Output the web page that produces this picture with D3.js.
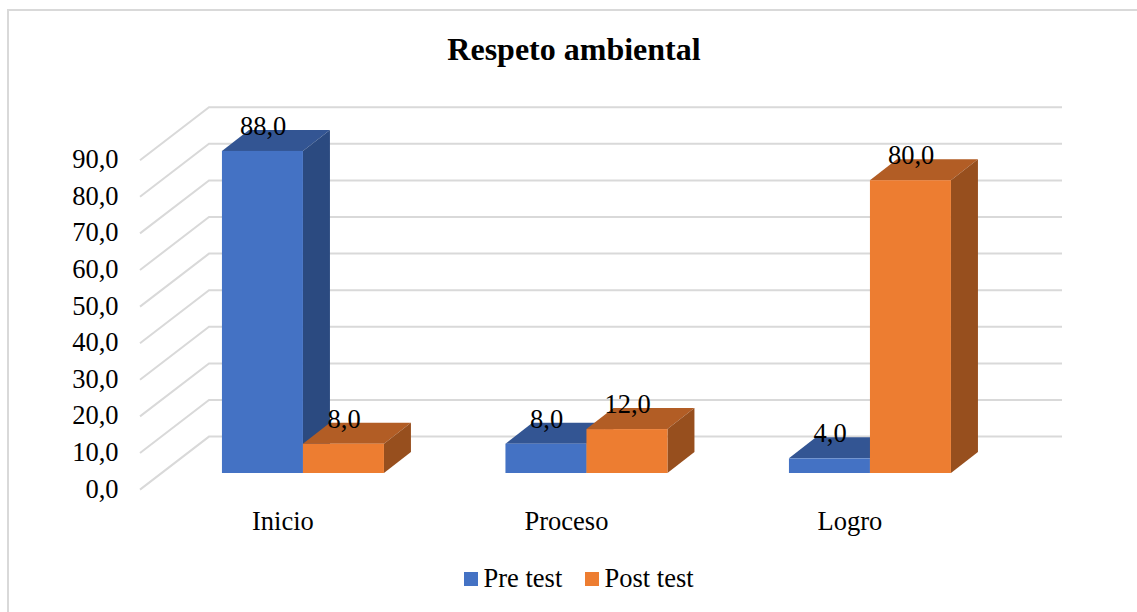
<!DOCTYPE html>
<html><head><meta charset="utf-8">
<script src="https://cdn.jsdelivr.net/npm/d3@7"></script>
<style>html,body{margin:0;padding:0;background:#fff;overflow:hidden}
svg{display:block;font-family:"Liberation Serif",serif;fill:#000}</style></head>
<body><svg id="c" width="1137" height="612"></svg>
<script>
const titleText = "Respeto ambiental";
const categories = ["Inicio", "Proceso", "Logro"];
const seriesNames = ["Pre test", "Post test"];
const preTest = [88, 8, 4];
const postTest = [8, 12, 80];
const tickValues = [0, 10, 20, 30, 40, 50, 60, 70, 80, 90];
const frontColors = ["#4472c4", "#ed7d31"];
const topColors = ["#335593", "#b25d25"];
const sideColors = ["#2b4a80", "#974f1e"];

const fmt = v => v.toFixed(1).replace(".", ",");
const svg = d3.select("#c");
const fontSize = 26.5;

// chart frame
svg.append("path").attr("d", "M8,612V10H1137").attr("fill", "none")
  .attr("stroke", "#d9d9d9").attr("stroke-width", 2);

svg.append("text").attr("x", 574).attr("y", 60).attr("text-anchor", "middle")
  .attr("font-size", 32).attr("font-weight", "bold").text(titleText);

// scales: y for the bar plane; walls are shifted by a fixed oblique offset
const y = d3.scaleLinear().domain([0, 90]).range([473, 143.6]);
const x0 = d3.scaleBand().domain(categories).range([161.2, 1011.7]);
const barW = 81;
const x1 = d3.scaleBand().domain(d3.range(seriesNames.length)).range([0, barW * 2]);
const inset = (x0.bandwidth() - barW * 2) / 2;
const depth = {dx: 27, dy: 21};

// gridlines: back wall and left side wall
const wallBack = {dx: 67, dy: -36.4};
const wallFront = {dx: -2, dy: 16.6};
const grid = svg.append("g").attr("fill", "none").attr("stroke", "#d9d9d9").attr("stroke-width", 2);
tickValues.forEach(t => {
  const yb = y(t) + wallBack.dy, yf = y(t) + wallFront.dy;
  grid.append("path").attr("d", `M${142 + wallFront.dx},${yf}L${142 + wallBack.dx},${yb}H1062`);
});

// y tick labels
svg.append("g").attr("font-size", fontSize).attr("text-anchor", "end")
  .selectAll("text").data(tickValues).join("text")
  .attr("x", 118.5).attr("y", d => y(d) + 24.5).text(fmt);

// bars
const bars = svg.append("g");
[preTest, postTest].forEach((vals, s) => {
  vals.forEach((v, i) => {
    const xl = x0(categories[i]) + inset + x1(s), xr = xl + barW;
    const yt = y(v), yb = y(0);
    const g = bars.append("g");
    g.append("path").attr("fill", topColors[s])
      .attr("d", `M${xl},${yt}L${xl + depth.dx},${yt - depth.dy}H${xr + depth.dx}L${xr},${yt}Z`);
    g.append("path").attr("fill", sideColors[s])
      .attr("d", `M${xr},${yt}L${xr + depth.dx},${yt - depth.dy}V${yb - depth.dy}L${xr},${yb}Z`);
    g.append("rect").attr("fill", frontColors[s])
      .attr("x", xl).attr("y", yt).attr("width", barW).attr("height", yb - yt);
  });
});

// value labels
const labels = svg.append("g").attr("font-size", fontSize).attr("text-anchor", "middle");
[preTest, postTest].forEach((vals, s) => {
  vals.forEach((v, i) => {
    labels.append("text")
      .attr("x", x0(categories[i]) + inset + x1(s) + barW / 2 + 0.7)
      .attr("y", y(v) - 16).text(fmt(v));
  });
});

// category labels
svg.append("g").attr("font-size", fontSize).attr("text-anchor", "middle")
  .selectAll("text").data(categories).join("text")
  .attr("x", d => x0(d) + x0.bandwidth() / 2 - 20).attr("y", 530).text(d => d);

// legend
const legendX = [464, 585];
const legend = svg.append("g").attr("font-size", fontSize);
seriesNames.forEach((n, i) => {
  legend.append("rect").attr("x", legendX[i]).attr("y", 572).attr("width", 14).attr("height", 14).attr("fill", frontColors[i]);
  legend.append("text").attr("x", legendX[i] + 19.5).attr("y", 587).text(n);
});
</script></body></html>
